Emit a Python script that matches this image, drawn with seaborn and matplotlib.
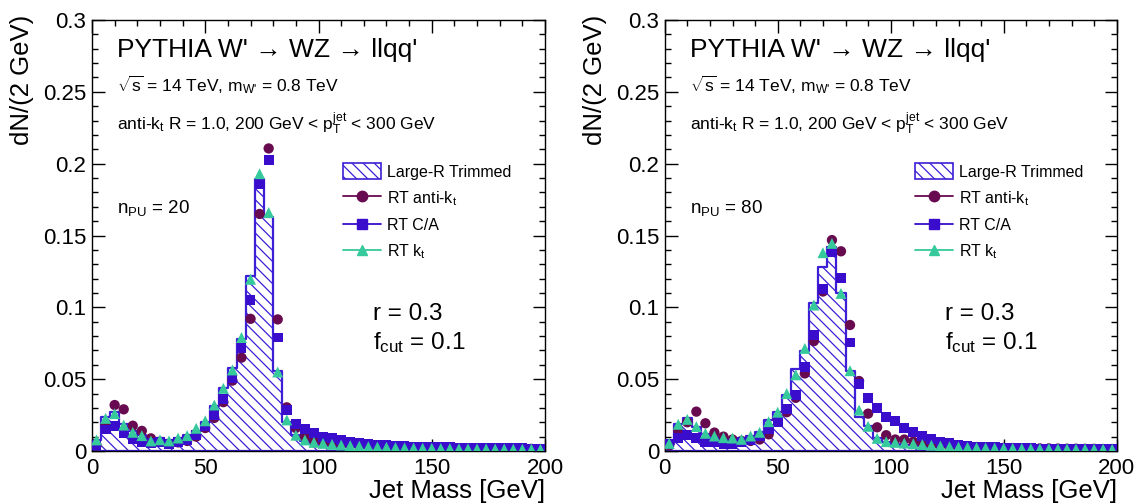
import numpy as np
import pandas as pd
import matplotlib
matplotlib.use("Agg")
import matplotlib.pyplot as plt
import seaborn as sns
from matplotlib.lines import Line2D
from matplotlib.patches import Patch
from matplotlib.ticker import MultipleLocator, FixedLocator, FixedFormatter

# ---------------- data ----------------
mass_range = (0, 200)
n_bins = 50

hist_pu20 = [0.008, 0.024, 0.027, 0.019, 0.014, 0.011, 0.009, 0.009, 0.008, 0.009,
             0.011, 0.014, 0.020, 0.031, 0.044, 0.058, 0.078, 0.122, 0.189, 0.163,
             0.056, 0.020, 0.011, 0.007, 0.005, 0.004, 0.0035, 0.003, 0.0028, 0.0025,
             0.0023, 0.0021, 0.002, 0.0019, 0.0018, 0.0017, 0.0016, 0.0015, 0.0015, 0.0014,
             0.0014, 0.0013, 0.0013, 0.0012, 0.0012, 0.0012, 0.0011, 0.0011, 0.0011, 0.001]
antikt_pu20 = [0.004, 0.018, 0.032, 0.029, 0.0176, 0.014, 0.0088, 0.0065, 0.005, 0.006,
               0.007, 0.010, 0.016, 0.023, 0.034, 0.049, 0.065, 0.092, 0.165, 0.2106,
               0.0916, 0.0304, 0.016, 0.010, 0.0077, 0.0065, 0.0055, 0.0048, 0.0042, 0.0038,
               0.0034, 0.0031, 0.0029, 0.0027, 0.0025, 0.0023, 0.0022, 0.0021, 0.002, 0.0019,
               0.0018, 0.0018, 0.0017, 0.0017, 0.0016, 0.0016, 0.0015, 0.0015, 0.0015, 0.0014]
ca_pu20 = [0.004, 0.0150, 0.0172, 0.0123, 0.0085, 0.0065, 0.0058, 0.0062, 0.005, 0.006,
           0.0075, 0.011, 0.017, 0.0248, 0.036, 0.0506, 0.0715, 0.105, 0.1856, 0.2025,
           0.079, 0.0285, 0.0186, 0.0151, 0.0128, 0.010, 0.009, 0.0077, 0.0065, 0.0055,
           0.005, 0.0045, 0.004, 0.0037, 0.0034, 0.0031, 0.0029, 0.0027, 0.0026, 0.0025,
           0.0024, 0.0023, 0.0022, 0.0021, 0.002, 0.002, 0.0019, 0.0019, 0.0018, 0.0018]
kt_pu20 = [0.0077, 0.0227, 0.026, 0.018, 0.013, 0.0107, 0.007, 0.0078, 0.007, 0.009,
           0.0107, 0.0158, 0.021, 0.032, 0.0436, 0.0564, 0.079, 0.1195, 0.193, 0.166,
           0.055, 0.0216, 0.011, 0.0077, 0.006, 0.0053, 0.0046, 0.0042, 0.0038, 0.0034,
           0.003, 0.0028, 0.0026, 0.0024, 0.0022, 0.0021, 0.002, 0.0019, 0.0018, 0.0017,
           0.0016, 0.0016, 0.0015, 0.0015, 0.0014, 0.0014, 0.0013, 0.0013, 0.0013, 0.0012]

hist_pu80 = [0.005, 0.019, 0.023, 0.017, 0.012, 0.010, 0.009, 0.009, 0.008, 0.0105,
             0.013, 0.0216, 0.027, 0.039, 0.057, 0.0696, 0.1028, 0.128, 0.142, 0.1097,
             0.056, 0.0239, 0.0174, 0.009, 0.006, 0.005, 0.0045, 0.004, 0.0035, 0.003,
             0.0028, 0.0026, 0.0024, 0.0022, 0.002, 0.0019, 0.0018, 0.0017, 0.0016, 0.0015,
             0.0015, 0.0014, 0.0014, 0.0013, 0.0013, 0.0012, 0.0012, 0.0011, 0.0011, 0.001]
antikt_pu80 = [0.004, 0.0146, 0.020, 0.0274, 0.0193, 0.0128, 0.010, 0.008, 0.007, 0.007,
               0.008, 0.0116, 0.022, 0.027, 0.037, 0.054, 0.0765, 0.111, 0.1468, 0.139,
               0.0877, 0.0487, 0.026, 0.0165, 0.011, 0.008, 0.008, 0.0065, 0.0055, 0.0045,
               0.004, 0.0035, 0.0032, 0.003, 0.0028, 0.0026, 0.0024, 0.0022, 0.0021, 0.002,
               0.0019, 0.0018, 0.0018, 0.0017, 0.0016, 0.0016, 0.0015, 0.0015, 0.0014, 0.0014]
ca_pu80 = [0.0046, 0.0088, 0.011, 0.0093, 0.0065, 0.006, 0.0046, 0.0046, 0.006, 0.0077,
           0.0101, 0.0153, 0.020, 0.029, 0.039, 0.0587, 0.0807, 0.113, 0.1387, 0.1206,
           0.0755, 0.0466, 0.0367, 0.030, 0.0239, 0.0211, 0.0162, 0.013, 0.0104, 0.0081,
           0.0065, 0.0053, 0.0042, 0.0035, 0.003, 0.0027, 0.0025, 0.0023, 0.0021, 0.002,
           0.0019, 0.0018, 0.0017, 0.0016, 0.0015, 0.0015, 0.0014, 0.0014, 0.0013, 0.0013]
kt_pu80 = [0.0053, 0.0186, 0.022, 0.017, 0.0123, 0.0104, 0.0093, 0.009, 0.0081, 0.0104,
           0.013, 0.0204, 0.027, 0.040, 0.053, 0.0714, 0.1016, 0.138, 0.1445, 0.1097,
           0.0559, 0.0285, 0.0172, 0.0088, 0.0065, 0.006, 0.0055, 0.005, 0.0045, 0.004,
           0.0035, 0.003, 0.0028, 0.0026, 0.0024, 0.0022, 0.0021, 0.002, 0.0019, 0.0018,
           0.0017, 0.0016, 0.0016, 0.0015, 0.0015, 0.0014, 0.0014, 0.0013, 0.0013, 0.0012]

pileup_labels = ["20", "80"]
legend_labels = ["Large-R Trimmed", "RT anti-k$_{t}$", "RT C/A", "RT k$_{t}$"]
y_ticks = [0, 0.05, 0.1, 0.15, 0.2, 0.25, 0.3]
y_tick_labels = ["0", "0.05", "0.1", "0.15", "0.2", "0.25", "0.3"]
x_ticks = [0, 50, 100, 150, 200]

# ---------------- style ----------------
sns.set_theme(style="ticks")
plt.rcParams["font.family"] = ["Liberation Sans", "DejaVu Sans"]
plt.rcParams["mathtext.fontset"] = "custom"
plt.rcParams["mathtext.rm"] = "Liberation Sans"
plt.rcParams["mathtext.it"] = "Liberation Sans"
plt.rcParams["mathtext.default"] = "regular"
plt.rcParams["hatch.linewidth"] = 0.9
for key in ["text.color", "axes.labelcolor", "xtick.color", "ytick.color",
            "xtick.labelcolor", "ytick.labelcolor", "axes.edgecolor"]:
    plt.rcParams[key] = "black"
HIST_C = "#3d1fd6"
C_AKT = "#680a50"
C_CA = "#3a0ccc"
C_KT = "#36c99b"
plt.rcParams["hatch.color"] = HIST_C

fig = plt.figure(figsize=(11.39, 5.04), dpi=100)
W, H = 1139.0, 504.0
axes = [fig.add_axes([92 / W, 1 - 451 / H, 453 / W, 431 / H]),
        fig.add_axes([664.7 / W, 1 - 451 / H, 452 / W, 431 / H])]

panels = [(hist_pu20, antikt_pu20, ca_pu20, kt_pu20),
          (hist_pu80, antikt_pu80, ca_pu80, kt_pu80)]

width = (mass_range[1] - mass_range[0]) / n_bins
centers = mass_range[0] + width * (np.arange(n_bins) + 0.5)
HATCH = "\\\\\\"

for ax, (hh, akt, ca, kt), pu in zip(axes, panels, pileup_labels):
    df = pd.DataFrame({"mass": centers, "hist": hh, "akt": akt, "ca": ca, "kt": kt})
    sns.histplot(data=df, x="mass", weights="hist", bins=n_bins, binrange=mass_range,
                 element="step", fill=True, ax=ax, facecolor="white", edgecolor=HIST_C,
                 hatch=HATCH, linewidth=1.6, alpha=1.0, zorder=1)
    sns.scatterplot(data=df, x="mass", y="akt", marker="o", s=55, color=C_AKT,
                    edgecolor="none", linewidth=0, ax=ax, zorder=3, legend=False)
    sns.scatterplot(data=df, x="mass", y="ca", marker="s", s=50, color=C_CA,
                    edgecolor="none", linewidth=0, ax=ax, zorder=4, legend=False)
    sns.scatterplot(data=df, x="mass", y="kt", marker="^", s=62, color=C_KT,
                    edgecolor="none", linewidth=0, ax=ax, zorder=5, legend=False)

    ax.set_xlim(*mass_range)
    ax.set_ylim(0, 0.3)
    ax.yaxis.set_major_locator(FixedLocator(y_ticks))
    ax.yaxis.set_major_formatter(FixedFormatter(y_tick_labels))
    ax.xaxis.set_major_locator(FixedLocator(x_ticks))
    ax.xaxis.set_minor_locator(MultipleLocator(10))
    ax.yaxis.set_minor_locator(MultipleLocator(0.01))
    ax.tick_params(which="both", direction="in", top=True, right=True,
                   color="black", labelcolor="black", width=1.0)
    ax.tick_params(which="major", length=9, labelsize=16)
    ax.tick_params(which="minor", length=4.5)
    ax.tick_params(axis="x", which="major", pad=5)
    ax.tick_params(axis="y", which="major", pad=4)
    for sp in ax.spines.values():
        sp.set_linewidth(1.0)
        sp.set_color("black")
        sp.set_visible(True)

    ax.set_xlabel("Jet Mass [GeV]", fontsize=18.5, loc="right", color="black")
    ax.xaxis.set_label_coords(1.0, -0.065)
    ax.set_ylabel("dN/(2 GeV)", fontsize=18.5, loc="top", color="black")
    ax.yaxis.set_label_coords(-0.128, 1.012)

    tx = ax.transAxes
    ax.text(0.055, 0.914, "PYTHIA W' \u2192 WZ \u2192 llqq'",
            transform=tx, fontsize=19, va="baseline", ha="left", color="black")
    ax.text(0.055, 0.835, "$\\sqrt{s}$ = 14 TeV, m$_{W\\text{'}}$ = 0.8 TeV",
            transform=tx, fontsize=12.5, va="baseline", ha="left", color="black")
    ax.text(0.055, 0.745, "anti-k$_{t}$ R = 1.0, 200 GeV < p$_{T}^{jet}$ < 300 GeV",
            transform=tx, fontsize=12.5, va="baseline", ha="left", color="black")
    ax.text(0.055, 0.552, "n$_{PU}$ = " + pu, transform=tx, fontsize=13.5,
            va="baseline", ha="left", color="black")
    ax.text(0.62, 0.304, "r = 0.3", transform=tx, fontsize=17.5,
            va="baseline", ha="left", color="black")
    ax.text(0.62, 0.237, "f$_{cut}$ = 0.1", transform=tx, fontsize=17.5,
            va="baseline", ha="left", color="black")

    handles = [Patch(facecolor="white", edgecolor=HIST_C, hatch=HATCH, linewidth=1.2),
               Line2D([0], [0], color=C_AKT, marker="o", ms=7.5, lw=1.3),
               Line2D([0], [0], color=C_CA, marker="s", ms=7, lw=1.3),
               Line2D([0], [0], color=C_KT, marker="^", ms=7.5, lw=1.3)]
    leg = ax.legend(handles, legend_labels, loc="upper left", bbox_to_anchor=(0.553, 0.668),
                    frameon=False, fontsize=11.5, handlelength=2.4, handleheight=1.2,
                    handletextpad=0.4, labelspacing=0.58, borderaxespad=0, borderpad=0)
    for t in leg.get_texts():
        t.set_color("black")

fig.savefig("out.png", dpi=100)
